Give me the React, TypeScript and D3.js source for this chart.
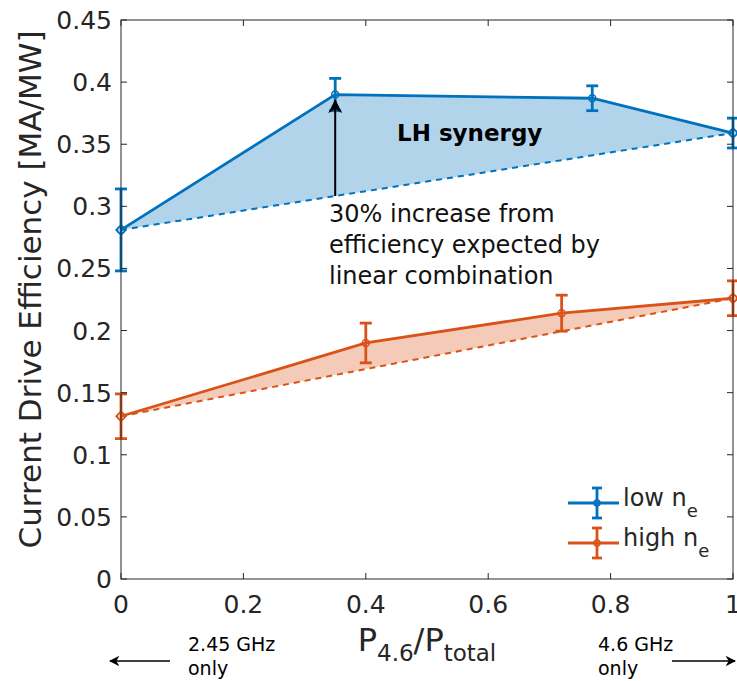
import React from 'react';
import * as d3 from 'd3';

// P4.6 / Ptotal fractions and efficiencies [MA/MW]
const lowFrac = [0, 0.35, 0.77, 1];
const lowEff = [0.281, 0.39, 0.387, 0.359];
const lowErr = [0.033, 0.013, 0.01, 0.012];

const highFrac = [0, 0.4, 0.72, 1];
const highEff = [0.131, 0.19, 0.214, 0.226];
const highErr = [0.018, 0.016, 0.0145, 0.014];

const xTicks = [0, 0.2, 0.4, 0.6, 0.8, 1];
const yTicks = [0, 0.05, 0.1, 0.15, 0.2, 0.25, 0.3, 0.35, 0.4, 0.45];
const legendLabels = ['low n', 'high n'];

const BLUE = '#0072BD';
const ORANGE = '#D95319';
const FONT = 'DejaVu Sans, sans-serif';
const INK = '#262626';

const W = 737;
const H = 681;
const margin = { top: 20, right: 4, bottom: 102, left: 121 };

const x = d3.scaleLinear().domain([0, 1]).range([margin.left, W - margin.right]);
const y = d3.scaleLinear().domain([0, 0.45]).range([H - margin.bottom, margin.top]);

const fmt = (v: number) => (v === 0 || v === 1 ? String(v) : String(+v.toFixed(2)));

type Series = { frac: number[]; eff: number[]; err: number[]; color: string; fill: string };

const series: Series[] = [
  { frac: lowFrac, eff: lowEff, err: lowErr, color: BLUE, fill: '#B2D4EB' },
  { frac: highFrac, eff: highEff, err: highErr, color: ORANGE, fill: '#F4CBB9' },
];

const line = d3.line<[number, number]>().x(d => x(d[0])).y(d => y(d[1]));

function SeriesMarks({ s }: { s: Series }) {
  const pts: [number, number][] = s.frac.map((f, i) => [f, s.eff[i]]);
  const n = pts.length;
  // linear combination between the two pure-frequency endpoints
  const lin: [number, number][] = [pts[0], pts[n - 1]];
  const area: [number, number][] = [...pts, ...lin.slice().reverse()];
  return (
    <g>
      <path d={line(area) + 'Z'} fill={s.fill} stroke="none" />
      <path d={line(lin) ?? ''} fill="none" stroke={s.color} strokeWidth={2} strokeDasharray="6,5" />
      <path d={line(pts) ?? ''} fill="none" stroke={s.color} strokeWidth={2.8} />
      {pts.map(([f, v], i) => (
        <g key={i} stroke={s.color} strokeWidth={2.8} fill="none">
          <line x1={x(f)} x2={x(f)} y1={y(v - s.err[i])} y2={y(v + s.err[i])} />
          <line x1={x(f) - 6} x2={x(f) + 6} y1={y(v - s.err[i])} y2={y(v - s.err[i])} />
          <line x1={x(f) - 6} x2={x(f) + 6} y1={y(v + s.err[i])} y2={y(v + s.err[i])} />
          <circle cx={x(f)} cy={y(v)} r={3.5} strokeWidth={1.5} />
        </g>
      ))}
      {lin.map(([f, v], i) => (
        <path
          key={'d' + i}
          d={`M${x(f) - 5},${y(v)}L${x(f)},${y(v) - 5}L${x(f) + 5},${y(v)}L${x(f)},${y(v) + 5}Z`}
          fill="none"
          stroke={s.color}
          strokeWidth={1.5}
        />
      ))}
    </g>
  );
}

export default function App() {
  const x0 = margin.left;
  const x1 = W - margin.right;
  const y0 = H - margin.bottom;
  const y1 = margin.top;
  const arrowX = x(lowFrac[1]);
  const arrowFrom = y(lowEff[0] + (lowEff[3] - lowEff[0]) * lowFrac[1]);
  const arrowTo = y(lowEff[1]) + 6;

  return (
    <div style={{ position: 'absolute', left: 0, top: 0 }}>
      <svg width={W} height={H} style={{ display: 'block', background: '#fff' }} fontFamily={FONT}>
        <defs>
          <marker id="ah" viewBox="0 0 10 10" refX="9" refY="5" markerWidth="7" markerHeight="7" orient="auto">
            <path d="M0,0L10,5L0,10L3,5Z" fill="#000" />
          </marker>
        </defs>

        {series.map((s, i) => (
          <SeriesMarks key={i} s={s} />
        ))}

        {/* annotation */}
        <line x1={arrowX} x2={arrowX} y1={arrowFrom} y2={arrowTo} stroke="#000" strokeWidth={2} markerEnd="url(#ah)" />
        <text x={397} y={141} fontSize={23} fontWeight="bold" fill="#000">LH synergy</text>
        <text fontSize={24} fill="#111">
          <tspan x={329} y={222}>30% increase from</tspan>
          <tspan x={329} y={253}>efficiency expected by</tspan>
          <tspan x={329} y={284}>linear combination</tspan>
        </text>

        {/* axes box and ticks */}
        <rect x={x0} y={y1} width={x1 - x0} height={y0 - y1} fill="none" stroke={INK} strokeWidth={1} />
        {xTicks.map(t => (
          <g key={'x' + t}>
            <line x1={x(t)} x2={x(t)} y1={y0} y2={y0 - 6} stroke={INK} />
            <line x1={x(t)} x2={x(t)} y1={y1} y2={y1 + 6} stroke={INK} />
            <text x={x(t)} y={y0 + 34} textAnchor="middle" fontSize={25} fill={INK}>{fmt(t)}</text>
          </g>
        ))}
        {yTicks.map(t => (
          <g key={'y' + t}>
            <line x1={x0} x2={x0 + 6} y1={y(t)} y2={y(t)} stroke={INK} />
            <line x1={x1} x2={x1 - 6} y1={y(t)} y2={y(t)} stroke={INK} />
            <text x={x0 - 9} y={y(t) + 9} textAnchor="end" fontSize={25} fill={INK}>{fmt(t)}</text>
          </g>
        ))}

        {/* axis labels */}
        <text transform={`translate(41,${(y0 + y1) / 2 - 10}) rotate(-90)`} textAnchor="middle" fontSize={31} fill={INK}>
          Current Drive Efficiency [MA/MW]
        </text>
        <text x={(x0 + x1) / 2} y={651} textAnchor="middle" fontSize={32} fill={INK}>
          P<tspan fontSize={23} dy={10}>4.6</tspan>
          <tspan dy={-10}>/P</tspan>
          <tspan fontSize={23} dy={10}>total</tspan>
        </text>

        {/* frequency notes */}
        <text fontSize={19} fill="#000">
          <tspan x={188} y={651}>2.45 GHz</tspan>
          <tspan x={188} y={675}>only</tspan>
        </text>
        <text fontSize={19} fill="#000">
          <tspan x={598} y={651}>4.6 GHz</tspan>
          <tspan x={598} y={675}>only</tspan>
        </text>
        <line x1={170} x2={110} y1={661} y2={661} stroke="#000" strokeWidth={1.5} markerEnd="url(#ah)" />
        <line x1={672} x2={735} y1={661} y2={661} stroke="#000" strokeWidth={1.5} markerEnd="url(#ah)" />

        {/* legend */}
        {series.map((s, i) => {
          const ly = 503 + i * 40;
          return (
            <g key={'l' + i}>
              <g stroke={s.color} strokeWidth={2.8} fill="none">
                <line x1={568} x2={619} y1={ly} y2={ly} />
                <line x1={597} x2={597} y1={ly - 15} y2={ly + 15} />
                <line x1={592} x2={602} y1={ly - 15} y2={ly - 15} />
                <line x1={592} x2={602} y1={ly + 15} y2={ly + 15} />
                <circle cx={597} cy={ly} r={3} strokeWidth={1.5} />
              </g>
              <text x={623} y={ly + 3} fontSize={24} fill={INK}>
                {legendLabels[i]}
                <tspan fontSize={18} dy={11}>e</tspan>
              </text>
            </g>
          );
        })}
      </svg>
    </div>
  );
}
